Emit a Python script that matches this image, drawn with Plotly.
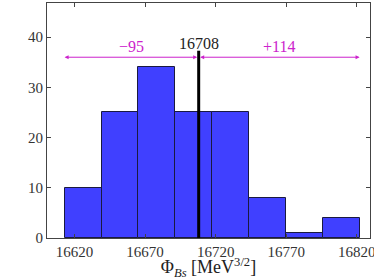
import plotly.graph_objects as go

bin_edges = [16613, 16639.125, 16665.25, 16691.375, 16717.5, 16743.625, 16769.75, 16795.875, 16822]
counts = [10, 25, 34, 25, 25, 8, 1, 4]
central = 16708
low = 16613
high = 16822
minus_label = "\u221295"
plus_label = "+114"
x_ticks = [16620, 16670, 16720, 16770, 16820]
y_ticks = [0, 10, 20, 30, 40]

centers = [(a + b) / 2 for a, b in zip(bin_edges[:-1], bin_edges[1:])]
widths = [b - a for a, b in zip(bin_edges[:-1], bin_edges[1:])]

font_fam = "Liberation Serif"
mag = "#cc22cc"

fig = go.Figure()
fig.add_trace(go.Bar(x=centers, y=counts, width=widths,
                     marker=dict(color="rgba(0,0,255,0.75)", line=dict(color="#1a1a40", width=1)),
                     showlegend=False, hoverinfo="skip"))

fig.add_shape(type="line", x0=central, x1=central, y0=0, y1=37.3,
              line=dict(color="black", width=3), xref="x", yref="y")

arrow_y = 36
for (s, e) in [(central, low), (central, high)]:
    fig.add_annotation(x=e, y=arrow_y, ax=s, ay=arrow_y, xref="x", yref="y",
                       axref="x", ayref="y", showarrow=True, arrowhead=2,
                       arrowside="end+start", arrowsize=0.8, arrowwidth=1,
                       arrowcolor=mag, text="")

fig.add_annotation(x=(low + central) / 2, y=arrow_y, text=minus_label, showarrow=False,
                   yanchor="bottom", font=dict(color=mag, size=16, family=font_fam), yshift=0)
fig.add_annotation(x=(high + central) / 2, y=arrow_y, text=plus_label, showarrow=False,
                   yanchor="bottom", font=dict(color=mag, size=16, family=font_fam), yshift=0)
fig.add_annotation(x=central, y=37.3, text=str(central), showarrow=False,
                   yanchor="bottom", font=dict(color="#222", size=16, family=font_fam), yshift=-3)

axis_common = dict(showline=True, mirror="ticks", linecolor="#444", linewidth=1.2,
                   ticks="inside", ticklen=4, tickcolor="#444", showgrid=False, zeroline=False,
                   tickfont=dict(family=font_fam, size=15, color="#333"))

fig.update_layout(
    width=374, height=280,
    margin=dict(l=47, r=4, t=3, b=42),
    paper_bgcolor="white", plot_bgcolor="white",
    bargap=0,
    xaxis=dict(range=[16600.5, 16829.4], tickvals=x_ticks, tickformat="d",
               ticklabeloverflow="allow", automargin=False,
               title=dict(text="\u03a6<sub><i>Bs</i></sub> [MeV<sup>3/2</sup>]",
                          font=dict(family=font_fam, size=18, color="#222"), standoff=9),
               **axis_common),
    yaxis=dict(range=[0, 46.8], tickvals=y_ticks, ticklabeloverflow="allow",
               automargin=False, **axis_common),
)

fig.write_html("out.html", config={"displayModeBar": False},
               post_script="document.body.style.margin='0';document.body.style.padding='0';")
